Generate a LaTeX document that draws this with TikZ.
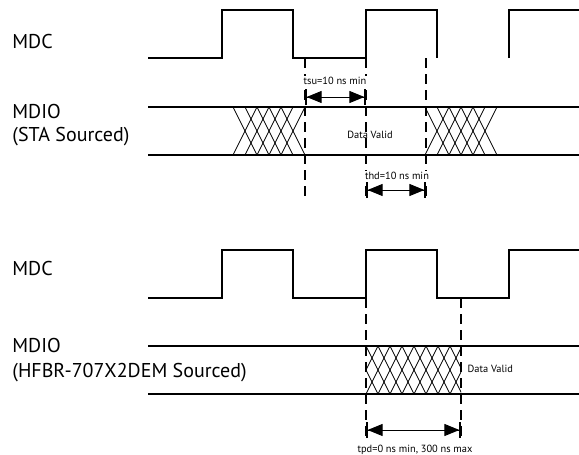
\documentclass[tikz,border=0pt]{standalone}
\usepackage{fontspec}
\setmainfont{PT Sans}
\usetikzlibrary{arrows.meta}

\tikzset{
  wave/.style={line width=0.85pt},
  hatch/.style={line width=0.35pt},
  guide/.style={line width=0.8pt, dash pattern=on 5pt off 3pt},
  span/.style={line width=0.5pt,
    {Bar[width=8pt,line width=0.8pt]Triangle[length=7.5pt,width=6pt]}-{Triangle[length=7.5pt,width=6pt]Bar[width=8pt,line width=0.8pt]}},
  sig/.style={font=\fontsize{10}{12}\selectfont, anchor=base west, inner sep=0pt},
  note/.style={font=\fontsize{5.2}{6}\selectfont, inner sep=0.6pt},
}

% crossing lines of a changing data bus: left x, top y, bottom y
\newcommand\buschange[3]{%
  \foreach \k in {0,...,4} {
    \draw[hatch] ({#1+12*\k},#2) -- ({#1+12*\k+24},#3);
    \draw[hatch] ({#1+12*\k},#3) -- ({#1+12*\k+24},#2);
  }}

\begin{document}
\begin{tikzpicture}[x=0.5pt,y=-0.5pt]
    \useasboundingbox (0,0) rectangle (579,455);

    % Signal names
    \node[sig] (mdcA) at (12,48) {MDC};
    \node[sig] (mdioA) at (12,118) {MDIO};
    \node[sig] (srcA) at (12,141) {(STA Sourced)};
    \node[sig] (mdcB) at (12,275) {MDC};
    \node[sig] (mdioB) at (12,352) {MDIO};
    \node[sig] (srcB) at (12,377) {(HFBR-707X2DEM Sourced)};

    % Clock, STA sourced
    \draw[wave] (148,58) -- (222,58) -- (222,10) -- (293,10) -- (293,58)
        -- (366,58) -- (366,10) -- (437,10) -- (437,58);
    \draw[wave] (509,58) -- (509,10) -- (579,10);

    % Data, STA sourced
    \draw[wave] (148,107) -- (579,107);
    \draw[wave] (148,155) -- (579,155);
    \buschange{233}{107}{155}
    \buschange{425}{107}{155}

    % Timing marks
    \coordinate (su) at (305,58);
    \coordinate (edge) at (366,58);
    \coordinate (hd) at (426,58);
    \draw[guide] (su) -- (305,198);
    \draw[guide] (edge) -- (366,198);
    \draw[guide] (hd) -- (426,198);

    \coordinate (suL) at (305,97);
    \coordinate (suR) at (366,97);
    \draw[span] (suL) -- (suR);
    \node[note, fill=white] (tsu) at (335,81) {tsu=10 ns min};

    \coordinate (hdL) at (366,190);
    \coordinate (hdR) at (426,190);
    \draw[span] (hdL) -- (hdR);
    \node[note, fill=white] (thd) at (397,176) {thd=10 ns min};

    \node[note] (validA) at (370,135) {Data Valid};

    % Clock, HFBR sourced
    \draw[wave] (148,298) -- (222,298) -- (222,250) -- (293,250) -- (293,298)
        -- (366,298) -- (366,250) -- (437,250) -- (437,298) -- (509,298)
        -- (509,250) -- (579,250);

    % Data, HFBR sourced
    \draw[wave] (148,346) -- (579,346);
    \draw[wave] (148,394) -- (579,394);
    \begin{scope}
      \clip (366,346) rectangle (461,394);
      \foreach \k in {-2,...,8} {
        \draw[hatch] ({366+12*\k},346) -- ({390+12*\k},394);
        \draw[hatch] ({366+12*\k},394) -- ({390+12*\k},346);
      }
    \end{scope}

    \coordinate (clk) at (366,298);
    \coordinate (out) at (461,298);
    \draw[guide] (clk) -- (366,438);
    \draw[guide] (out) -- (461,438);

    \coordinate (pdL) at (366,430);
    \coordinate (pdR) at (461,430);
    \draw[span] (pdL) -- (pdR);
    \node[note] (tpd) at (415,450) {tpd=0 ns min, 300 ns max};

    \node[note, anchor=west] (validB) at (466,369) {Data Valid};
\end{tikzpicture}
\end{document}
